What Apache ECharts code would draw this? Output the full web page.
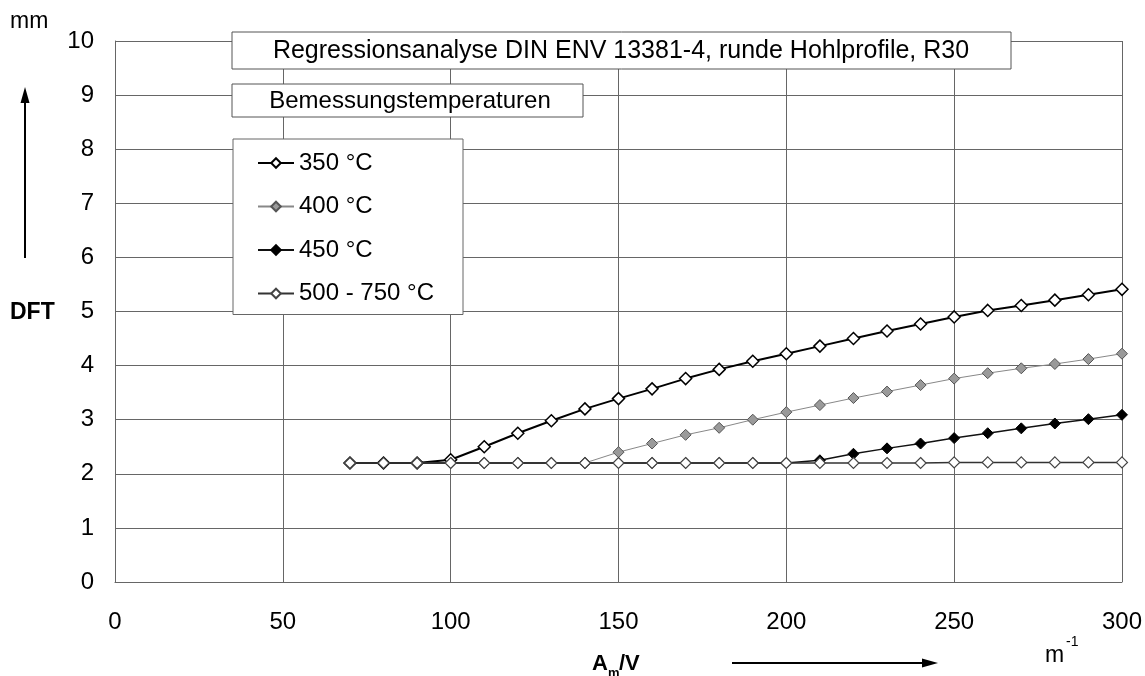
<!DOCTYPE html>
<html><head><meta charset="utf-8">
<script src="https://cdn.jsdelivr.net/npm/echarts@6/dist/echarts.min.js"></script>
<style>html,body{margin:0;padding:0;background:#fff}#c{width:1145px;height:676px}</style>
</head><body><div id="c"></div>
<script>
// ---- data ----
const xValues = [70,80,90,100,110,120,130,140,150,160,170,180,190,200,210,220,230,240,250,260,270,280,290,300];
const seriesNames = ['350 °C','400 °C','450 °C','500 - 750 °C'];
const s350 = [2.2,2.2,2.2,2.26,2.5,2.75,2.98,3.2,3.39,3.57,3.76,3.93,4.08,4.22,4.36,4.5,4.64,4.77,4.9,5.02,5.11,5.21,5.31,5.41];
const s400 = [2.2,2.2,2.2,2.2,2.2,2.2,2.2,2.2,2.4,2.56,2.72,2.85,3.0,3.14,3.27,3.4,3.52,3.64,3.76,3.86,3.95,4.03,4.12,4.22];
const s450 = [2.2,2.2,2.2,2.2,2.2,2.2,2.2,2.2,2.2,2.2,2.2,2.2,2.2,2.2,2.25,2.37,2.47,2.56,2.66,2.75,2.84,2.93,3.01,3.09];
const s500 = [2.2,2.2,2.2,2.2,2.2,2.2,2.2,2.2,2.2,2.2,2.2,2.2,2.2,2.2,2.2,2.2,2.2,2.2,2.21,2.21,2.21,2.21,2.21,2.21];
const xTicks = {min:0, max:300, interval:50};
const yTicks = {min:0, max:10, interval:1};
const titleText = 'Regressionsanalyse DIN ENV 13381-4, runde Hohlprofile, R30';
const subtitleText = 'Bemessungstemperaturen';

const FONT = '"Liberation Sans", Arial, Helvetica, sans-serif';
const pts = arr => xValues.map((x,i)=>[x, arr[i]]);
const chart = echarts.init(document.getElementById('c'));

const axisCommon = {
  type:'value',
  axisLine:{show:true, lineStyle:{color:'#666', width:1}},
  axisTick:{show:false},
  splitLine:{show:true, lineStyle:{color:'#666', width:1}}
};

chart.setOption({
  animation:false,
  backgroundColor:'#fff',
  grid:{left:115, right:23, top:41, bottom:94},
  xAxis:Object.assign({}, axisCommon, {
    min:xTicks.min, max:xTicks.max, interval:xTicks.interval,
    axisLabel:{margin:28, fontSize:24, color:'#000', fontFamily:FONT}
  }),
  yAxis:Object.assign({}, axisCommon, {
    min:yTicks.min, max:yTicks.max, interval:yTicks.interval,
    axisLabel:{margin:21, fontSize:24, color:'#000', fontFamily:FONT}
  }),
  legend:{
    orient:'vertical', left:233, top:139,
    padding:[11,29,8,24], itemGap:17.5, itemWidth:36, itemHeight:12,
    backgroundColor:'#fff', borderColor:'#666', borderWidth:1,
    textStyle:{fontSize:24, lineHeight:26, color:'#000', fontFamily:FONT},
    data:seriesNames
  },
  series:[
    {name:seriesNames[0], type:'line', data:pts(s350), symbol:'diamond', symbolSize:12, z:2,
     itemStyle:{color:'#fff', borderColor:'#000', borderWidth:1.5},
     lineStyle:{color:'#000', width:2}},
    {name:seriesNames[1], type:'line', data:pts(s400), symbol:'diamond', symbolSize:11, z:3,
     itemStyle:{color:'#9a9a9a', borderColor:'#555', borderWidth:1},
     lineStyle:{color:'#888', width:1}},
    {name:seriesNames[2], type:'line', data:pts(s450), symbol:'diamond', symbolSize:11, z:4,
     itemStyle:{color:'#000', borderColor:'#000', borderWidth:1},
     lineStyle:{color:'#111', width:1.5}},
    {name:seriesNames[3], type:'line', data:pts(s500), symbol:'diamond', symbolSize:11, z:5,
     itemStyle:{color:'#fff', borderColor:'#444', borderWidth:1.2},
     lineStyle:{color:'#333', width:1.5}}
  ],
  graphic:[
    {type:'rect', z:10, shape:{x:232, y:32, width:779, height:37}, style:{fill:'#fff', stroke:'#555', lineWidth:1}},
    {type:'text', z:11, x:621, y:51, style:{text:titleText, font:'25px '+FONT, fill:'#000', textAlign:'center', textVerticalAlign:'middle'}},
    {type:'rect', z:10, shape:{x:232, y:84, width:351, height:33}, style:{fill:'#fff', stroke:'#555', lineWidth:1}},
    {type:'text', z:11, x:410, y:101, style:{text:subtitleText, font:'24px '+FONT, fill:'#000', textAlign:'center', textVerticalAlign:'middle'}},
    // y axis name and arrow
    {type:'text', z:11, x:10, y:22, style:{text:'mm', font:'23px '+FONT, fill:'#000', textVerticalAlign:'middle'}},
    {type:'text', z:11, x:10, y:313, style:{text:'DFT', font:'bold 23px '+FONT, fill:'#000', textVerticalAlign:'middle'}},
    {type:'line', z:11, shape:{x1:25, y1:258, x2:25, y2:100}, style:{stroke:'#000', lineWidth:2}},
    {type:'polygon', z:11, shape:{points:[[25,87],[20.5,103],[29.5,103]]}, style:{fill:'#000'}},
    // x axis name and arrow
    {type:'text', z:11, x:592, y:664, style:{text:'A', font:'bold 22px '+FONT, fill:'#000', textVerticalAlign:'middle'}},
    {type:'text', z:11, x:608, y:673, style:{text:'m', font:'bold 13px '+FONT, fill:'#000', textVerticalAlign:'middle'}},
    {type:'text', z:11, x:619, y:664, style:{text:'/V', font:'bold 22px '+FONT, fill:'#000', textVerticalAlign:'middle'}},
    {type:'line', z:11, shape:{x1:732, y1:663, x2:924, y2:663}, style:{stroke:'#000', lineWidth:2}},
    {type:'polygon', z:11, shape:{points:[[938,663],[922,658.5],[922,667.5]]}, style:{fill:'#000'}},
    {type:'text', z:11, x:1045, y:656, style:{text:'m', font:'23px '+FONT, fill:'#000', textVerticalAlign:'middle'}},
    {type:'text', z:11, x:1066, y:642, style:{text:'-1', font:'14px '+FONT, fill:'#000', textVerticalAlign:'middle'}}
  ]
});
</script></body></html>
